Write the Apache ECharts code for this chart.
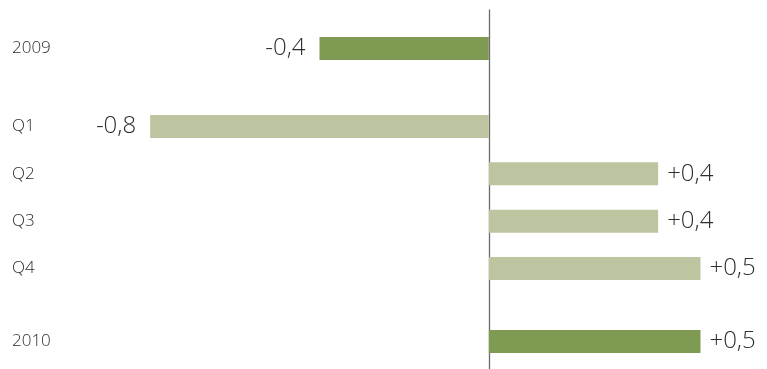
<!DOCTYPE html>
<html>
<head>
<meta charset="utf-8">
<script src="https://cdn.jsdelivr.net/npm/echarts@6/dist/echarts.min.js"></script>
<style>html,body{margin:0;padding:0;background:#fff}#c{width:767px;height:369px}</style>
</head>
<body>
<div id="c"></div>
<script>
const yearStart = ['2009'];
const yearStartValues = [-0.4];
const quarters = ['Q1', 'Q2', 'Q3', 'Q4'];
const quarterValues = [-0.8, 0.4, 0.4, 0.5];
const yearEnd = ['2010'];
const yearEndValues = [0.5];

const FONT = '"Open Sans", "Segoe UI", sans-serif';
const DARK = '#7f9a53';
const LIGHT = '#bcc5a0';
const XMIN = -1, XMAX = 0.6;
const L = 65.5, R = 24.2;

function fmt(v) {
  const s = Math.abs(v).toFixed(1).replace('.', ',');
  return (v > 0 ? '+' : '-') + s;
}

const grids = [
  { left: L, right: R, top: 25, height: 47 },
  { left: L, right: R, top: 102.8, height: 189.4 },
  { left: L, right: R, top: 318, height: 47 },
  { left: L, right: R, top: 10, bottom: 0 }
];

function xAx(i) {
  return { type: 'value', gridIndex: i, min: XMIN, max: XMAX, show: false };
}
function yAx(i, cats) {
  return {
    type: 'category', gridIndex: i, data: cats, inverse: true,
    axisLine: { show: false }, axisTick: { show: false }, splitLine: { show: false },
    axisLabel: { align: 'left', margin: L - 12, fontFamily: FONT, fontWeight: 300, fontSize: 17, color: '#2e2e2e' }
  };
}
function bar(i, vals, color) {
  return {
    type: 'bar', xAxisIndex: i, yAxisIndex: i, data: vals, barWidth: 23,
    itemStyle: { color: color },
    label: {
      show: true,
      position: 'right',
      distance: 10,
      formatter: p => fmt(p.value),
      fontFamily: FONT, fontWeight: 300, fontSize: 24, color: '#2e2e2e'
    },
    silent: true
  };
}

const series = [
  bar(0, yearStartValues, DARK),
  bar(1, quarterValues, LIGHT),
  bar(2, yearEndValues, DARK)
];
series.forEach(s => {
  s.data = s.data.map(v => ({ value: v, label: v < 0 ? { position: 'left', distance: 14 } : { position: 'right', distance: 9 } }));
});

const chart = echarts.init(document.getElementById('c'), null, { renderer: 'canvas' });
chart.setOption({
  animation: false,
  grid: grids,
  xAxis: [xAx(0), xAx(1), xAx(2), xAx(3)],
  yAxis: [
    yAx(0, yearStart), yAx(1, quarters), yAx(2, yearEnd),
    { type: 'value', gridIndex: 3, min: 0, max: 1, axisLabel: { show: false }, axisTick: { show: false }, splitLine: { show: false },
      axisLine: { show: true, onZero: true, lineStyle: { color: '#6b6b6b', width: 1.3 } } }
  ],
  series: series
});
</script>
</body>
</html>
